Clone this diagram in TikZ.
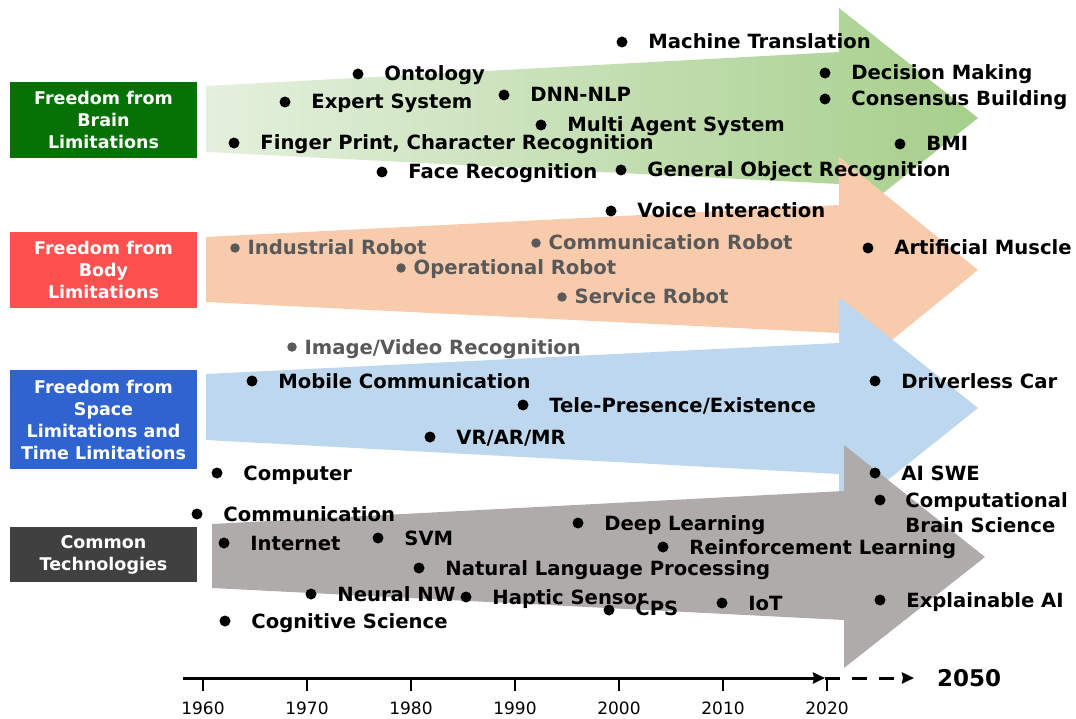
\documentclass[tikz,border=0pt]{standalone}
\usepackage{fontspec}
\setmainfont{DejaVu Sans}
\usetikzlibrary{positioning,arrows.meta}

\definecolor{brainbox}{RGB}{6,114,6}
\definecolor{bodybox}{RGB}{255,80,80}
\definecolor{spacebox}{RGB}{47,100,208}
\definecolor{commonbox}{RGB}{64,64,64}
\definecolor{greenL}{RGB}{228,240,221}
\definecolor{greenR}{RGB}{166,207,139}
\definecolor{orangefill}{RGB}{248,203,173}
\definecolor{bluefill}{RGB}{189,215,238}
\definecolor{grayfill}{RGB}{175,171,171}
\definecolor{itemgray}{RGB}{89,89,89}

\begin{document}
\begin{tikzpicture}[x=1pt, y=-1pt,
    dot/.style={circle, fill=black, inner sep=0pt, minimum size=11pt},
    gdot/.style={dot, fill=itemgray, minimum size=9.5pt},
    lbl/.style={inner sep=0pt, font=\bfseries\fontsize{19.6}{25}\selectfont},
    txt/.style={lbl, text height=15pt, text depth=1pt},
    gtxt/.style={txt, text=itemgray},
    box/.style={minimum width=187pt, inner sep=0pt, text=white, align=center,
        font=\bfseries\fontsize{17.5}{22}\selectfont}]
    \useasboundingbox (0,0) rectangle (1076,719);

    \shade[left color=greenL, right color=greenR] (206,86) -- (839,52) -- (839,8) -- (978,118)
        -- (839,228) -- (839,184) -- (206,152) -- cycle;
    \fill[orangefill] (206,237) -- (839,205) -- (839,157) -- (978,270)
        -- (839,383) -- (839,333) -- (206,302) -- cycle;
    \fill[bluefill] (206,374) -- (839,343) -- (839,297) -- (978,408)
        -- (839,519) -- (839,474) -- (206,440) -- cycle;
    \fill[grayfill] (212,524) -- (844,491) -- (844,445) -- (985,557)
        -- (844,668) -- (844,620) -- (212,588) -- cycle;

    \node[box, fill=brainbox, minimum height=76pt] (brain) at (103.5,120) {Freedom from\\Brain\\Limitations};
    \node[box, fill=bodybox, minimum height=76pt] (body) at (103.5,270) {Freedom from\\Body\\Limitations};
    \node[box, fill=spacebox, minimum height=99pt] (space) at (103.5,419.5) {Freedom from\\Space\\Limitations and\\Time Limitations};
    \node[box, fill=commonbox, minimum height=55pt] (common) at (103.5,554.5) {Common\\Technologies};

    \node[dot] (mt) at (622,42) {};
    \node[txt, right=20.5pt of mt] (mt-l) {Machine Translation};
    \node[dot] (onto) at (358,74) {};
    \node[txt, right=20.5pt of onto] (onto-l) {Ontology};
    \node[dot] (dec) at (825,73) {};
    \node[txt, right=20.5pt of dec] (dec-l) {Decision Making};
    \node[dot] (exp) at (285,102) {};
    \node[txt, right=20.5pt of exp] (exp-l) {Expert System};
    \node[dot] (dnn) at (504,95) {};
    \node[txt, right=20.5pt of dnn] (dnn-l) {DNN-NLP};
    \node[dot] (cons) at (825,99) {};
    \node[txt, right=20.5pt of cons] (cons-l) {Consensus Building};
    \node[dot] (mas) at (541,125) {};
    \node[txt, right=20.5pt of mas] (mas-l) {Multi Agent System};
    \node[dot] (fpr) at (234,143) {};
    \node[txt, right=20.5pt of fpr] (fpr-l) {Finger Print, Character Recognition};
    \node[dot] (bmi) at (900,144) {};
    \node[txt, right=20.5pt of bmi] (bmi-l) {BMI};
    \node[dot] (face) at (382,172) {};
    \node[txt, right=20.5pt of face] (face-l) {Face Recognition};
    \node[dot] (gor) at (621,170) {};
    \node[txt, right=20.5pt of gor] (gor-l) {General Object Recognition};
    \node[dot] (voice) at (611,211) {};
    \node[txt, right=20.5pt of voice] (voice-l) {Voice Interaction};

    \node[gdot] (ind) at (235,248) {};
    \node[gtxt, right=7.5pt of ind] (ind-l) {Industrial Robot};
    \node[gdot] (crob) at (536,243) {};
    \node[gtxt, right=7.5pt of crob] (crob-l) {Communication Robot};
    \node[gdot] (oper) at (401,268) {};
    \node[gtxt, right=7.5pt of oper] (oper-l) {Operational Robot};
    \node[gdot] (serv) at (562,297) {};
    \node[gtxt, right=7.5pt of serv] (serv-l) {Service Robot};
    \node[dot] (musc) at (868,248) {};
    \node[txt, right=20.5pt of musc] (musc-l) {Artificial Muscle};

    \node[gdot] (img) at (292,347) {};
    \node[gtxt, right=7.5pt of img] (img-l) {Image/Video Recognition};
    \node[dot] (mob) at (252,381) {};
    \node[txt, right=20.5pt of mob] (mob-l) {Mobile Communication};
    \node[dot] (tele) at (523,405) {};
    \node[txt, right=20.5pt of tele] (tele-l) {Tele-Presence/Existence};
    \node[dot] (vr) at (430,437) {};
    \node[txt, right=20.5pt of vr] (vr-l) {VR/AR/MR};
    \node[dot] (drv) at (875,381) {};
    \node[txt, right=20.5pt of drv] (drv-l) {Driverless Car};
    \node[dot] (cmp) at (217,473) {};
    \node[txt, right=20.5pt of cmp] (cmp-l) {Computer};
    \node[dot] (aiswe) at (875,473) {};
    \node[txt, right=20.5pt of aiswe] (aiswe-l) {AI SWE};
    \node[dot] (cbs) at (880,500) {};
    \node[lbl, align=left, right=19.5pt of cbs, anchor=north west, yshift=8pt] (cbs-l) {Computational\\Brain Science};

    \node[dot] (comm) at (197,514) {};
    \node[txt, right=20.5pt of comm] (comm-l) {Communication};
    \node[dot] (inet) at (224,543) {};
    \node[txt, right=20.5pt of inet] (inet-l) {Internet};
    \node[dot] (svm) at (378,538) {};
    \node[txt, right=20.5pt of svm] (svm-l) {SVM};
    \node[dot] (deep) at (578,523) {};
    \node[txt, right=20.5pt of deep] (deep-l) {Deep Learning};
    \node[dot] (rl) at (663,547) {};
    \node[txt, right=20.5pt of rl] (rl-l) {Reinforcement Learning};
    \node[dot] (nlp) at (419,568) {};
    \node[txt, right=20.5pt of nlp] (nlp-l) {Natural Language Processing};
    \node[dot] (nnw) at (311,594) {};
    \node[txt, right=20.5pt of nnw] (nnw-l) {Neural NW};
    \node[dot] (hap) at (466,597) {};
    \node[txt, right=20.5pt of hap] (hap-l) {Haptic Sensor};
    \node[dot] (cps) at (609,610) {};
    \node[txt, right=20.5pt of cps, yshift=2pt] (cps-l) {CPS};
    \node[dot] (iot) at (722,603) {};
    \node[txt, right=20.5pt of iot] (iot-l) {IoT};
    \node[dot] (xai) at (880,600) {};
    \node[txt, right=20.5pt of xai] (xai-l) {Explainable AI};
    \node[dot] (cog) at (225,621) {};
    \node[txt, right=20.5pt of cog] (cog-l) {Cognitive Science};

    \coordinate (t0) at (183,678);
    \coordinate (tnow) at (825,678);
    \coordinate (tend) at (914,678);
    \draw[line width=3pt, -{Stealth[length=12pt, width=11pt, inset=1pt]}] (t0) -- (tnow);
    \draw[line width=3pt, dash pattern=on 15pt off 12pt, -{Stealth[length=12pt, width=11pt, inset=1pt]}] (tnow) -- (tend);
    \foreach \yr [count=\i from 0] in {1960,1970,...,2020}
        \draw[line width=1.5pt] (203+104*\i,678) -- ++(0,13)
            node[below=10pt, inner sep=0pt, font=\fontsize{17}{17}\selectfont] {\yr};
    \node[inner sep=0pt, right=23pt of tend, font=\bfseries\fontsize{23}{28}\selectfont] (y2050) {2050};
\end{tikzpicture}
\end{document}
